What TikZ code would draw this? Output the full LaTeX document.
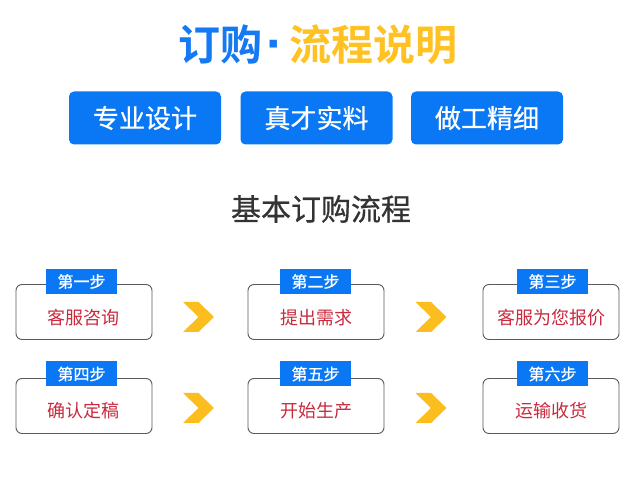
\documentclass[tikz,border=0pt]{standalone}
\usepackage{fontspec}
\setmainfont{Noto Sans CJK SC}
\newfontfamily\cjk{Noto Sans CJK SC}
\newfontfamily\cjkmed[FakeBold=0.6]{Noto Sans CJK SC}
\newfontfamily\cjkbold{Noto Sans CJK SC Bold}
\newfontfamily\dotfont{Liberation Sans Bold}
\definecolor{tblue}{HTML}{1479F2}
\definecolor{tyellow}{HTML}{FFC222}
\definecolor{bblue}{HTML}{0A78F4}
\definecolor{chev}{HTML}{FBBE1E}
\definecolor{stepred}{HTML}{C92A3E}
\definecolor{subgray}{HTML}{333333}
\definecolor{edgegray}{HTML}{5A5A5A}
\tikzset{
  featbox/.style={fill=bblue, rounded corners=5pt, minimum width=152pt, minimum height=53pt, text=white, font=\cjkmed\fontsize{26}{26}\selectfont, inner sep=0pt},
  stepbox/.style={draw=edgegray, line width=0.9pt, rounded corners=6pt, fill=white, minimum width=136pt, minimum height=55pt, inner sep=0pt},
  steptab/.style={fill=bblue, minimum width=71pt, minimum height=25pt, text=white, font=\cjkmed\fontsize{16}{16}\selectfont, inner sep=0pt},
  steptext/.style={text=stepred, font=\cjk\fontsize{18}{18}\selectfont, inner sep=0pt},
  titletext/.style={font=\cjkbold\fontsize{42}{42}\selectfont, inner sep=0pt},
}
\newcommand{\chevronat}[2]{\fill[chev] (#1-15.5,#2-15) -- (#1,#2-15) -- (#1+15.5,#2) -- (#1,#2+15) -- (#1-15.5,#2+15) -- (#1,#2) -- cycle;}
\begin{document}
\begin{tikzpicture}[x=1pt,y=-1pt]
\useasboundingbox (0,0) rectangle (633,494);
\fill[white] (0,0) rectangle (633,494);
% title
\node[titletext, text=tblue] (t1) at (220,45) {订购};
\node[text=tblue, font=\dotfont\fontsize{52}{52}\selectfont, inner sep=0pt, anchor=base] (tdot) at (275,62) {·};
\node[titletext, text=tyellow] (t2) at (373,45) {流程说明};
% feature boxes
\node[featbox] (f1) at (145,118) {专业设计};
\node[featbox] (f2) at (316.5,118) {真才实料};
\node[featbox] (f3) at (487,118) {做工精细};
% subtitle
\node[text=subgray, font=\cjkmed\fontsize{30}{30}\selectfont, inner sep=0pt] (sub) at (321,209) {基本订购流程};
% steps row 1
\node[stepbox] (s1) at (84,312) {};
\node[stepbox] (s2) at (316,312) {};
\node[stepbox] (s3) at (551,312) {};
\node[steptab] (l1) at (81.5,281.5) {第一步};
\node[steptab] (l2) at (315.5,281.5) {第二步};
\node[steptab] (l3) at (552.5,281.5) {第三步};
\node[steptext] at ([yshift=-6pt]s1.center) {客服咨询};
\node[steptext] at ([yshift=-6pt]s2.center) {提出需求};
\node[steptext] at ([yshift=-6pt]s3.center) {客服为您报价};
% steps row 2
\node[stepbox] (s4) at (84,406) {};
\node[stepbox] (s5) at (316,406) {};
\node[stepbox] (s6) at (551,406) {};
\node[steptab] (l4) at (81.5,374) {第四步};
\node[steptab] (l5) at (315.5,374) {第五步};
\node[steptab] (l6) at (552.5,374) {第六步};
\node[steptext] at ([yshift=-5pt]s4.center) {确认定稿};
\node[steptext] at ([yshift=-5pt]s5.center) {开始生产};
\node[steptext] at ([yshift=-5pt]s6.center) {运输收货};
% chevrons
\chevronat{198.5}{317}
\chevronat{431}{317}
\chevronat{198.5}{408}
\chevronat{431}{408}
\end{tikzpicture}
\end{document}
